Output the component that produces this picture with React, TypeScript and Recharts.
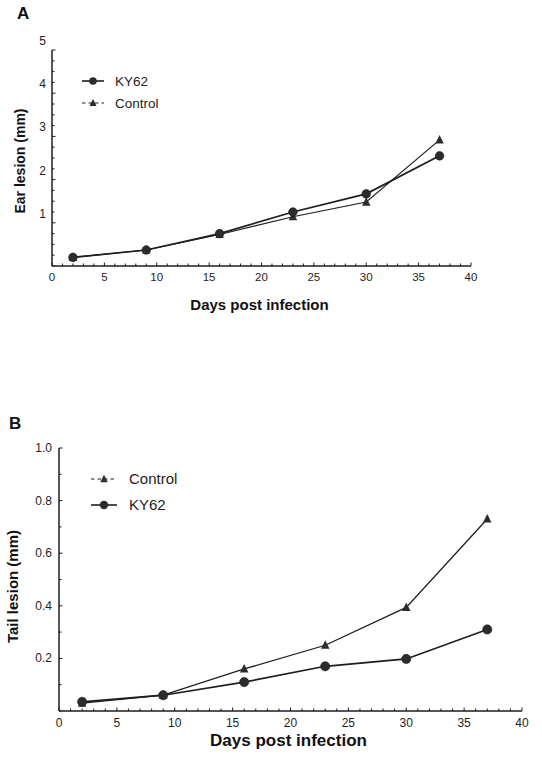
import React from 'react';
import { LineChart, Line, XAxis, YAxis, Legend } from 'recharts';

// ---------- data ----------
const days = [2, 9, 16, 23, 30, 37];
const earKY62 = [0.2, 0.37, 0.75, 1.25, 1.67, 2.55];
const earControl = [0.2, 0.37, 0.73, 1.14, 1.48, 2.92];
const tailControl = [0.03, 0.06, 0.16, 0.25, 0.394, 0.73];
const tailKY62 = [0.035, 0.06, 0.11, 0.17, 0.198, 0.31];

// tick labels (major) and minor tick positions
const dayMajor = [0, 5, 10, 15, 20, 25, 30, 35, 40];
const earMajor = [1, 2, 3, 4, 5];
const tailMajor = [0.2, 0.4, 0.6, 0.8, 1.0];
const dayTicks = Array.from({ length: 41 }, (_, i) => i);
const earTicks = Array.from({ length: 21 }, (_, i) => i / 4);
const tailTicks = Array.from({ length: 11 }, (_, i) => i / 10);

const earData = days.map((d, i) => ({ day: d, ky62: earKY62[i], control: earControl[i] }));
const tailData = days.map((d, i) => ({ day: d, ky62: tailKY62[i], control: tailControl[i] }));

const FONT = '"Liberation Sans", Arial, sans-serif';
const INK = '#1e1e1e';

const isMajor = (v: number, majors: number[]) => majors.some((m) => Math.abs(m - v) < 1e-6);

const makeXTick = (labelDy: number, fs: number) => (props: any) => {
  const { x, y, payload } = props;
  const v = payload.value;
  const major = isMajor(v, dayMajor);
  return (
    <g>
      <line x1={x} x2={x} y1={y} y2={y - (major ? 3.5 : 2.5)} stroke={INK} strokeWidth={1} />
      {major && (
        <text x={x} y={y + labelDy} textAnchor="middle" fontSize={fs} fontFamily={FONT} fill={INK}>
          {String(v)}
        </text>
      )}
    </g>
  );
};

const makeYTick = (majors: number[], fmt: (v: number) => string, dx: number, dy: number, fs: number) => (props: any) => {
  const { x, y, payload } = props;
  const v = payload.value;
  const major = isMajor(v, majors);
  return (
    <g>
      <line x1={x} x2={x + (major ? 3.5 : 2.5)} y1={y} y2={y} stroke={INK} strokeWidth={1} />
      {major && (
        <text x={x - dx} y={y + dy} textAnchor="end" fontSize={fs} fontFamily={FONT} fill={INK}>
          {fmt(v)}
        </text>
      )}
    </g>
  );
};

const circleDot = (r: number) => (props: any) => {
  const { cx, cy, index } = props;
  if (cx == null || cy == null) return <g key={`c${index}`} />;
  return <circle key={`c${index}`} cx={cx} cy={cy} r={r} fill="#2c2c2c" stroke="#1a1a1a" strokeWidth={0.6} />;
};

const triPoints = (cx: number, cy: number, s: number) =>
  `${cx},${cy - s * 0.58} ${cx - s / 2},${cy + s * 0.42} ${cx + s / 2},${cy + s * 0.42}`;

const triangleDot = (s: number) => (props: any) => {
  const { cx, cy, index } = props;
  if (cx == null || cy == null) return <g key={`t${index}`} />;
  return <polygon key={`t${index}`} points={triPoints(cx, cy, s)} fill="#2c2c2c" />;
};

type Entry = { name: string; kind: 'circle' | 'triangle' };

const makeLegend = (entries: Entry[], cfg: { y0: number; dy: number; lx1: number; lx2: number; tx: number; fs: number; r: number; s: number }) => () => (
  <svg width={140} height={cfg.y0 * 2 + cfg.dy} style={{ display: 'block', overflow: 'visible' }}>
    {entries.map((e, i) => {
      const y = cfg.y0 + i * cfg.dy;
      const mx = (cfg.lx1 + cfg.lx2) / 2;
      const dashed = e.kind === 'triangle';
      return (
        <g key={e.name}>
          <line
            x1={cfg.lx1}
            x2={cfg.lx2}
            y1={y}
            y2={y}
            stroke={INK}
            strokeWidth={dashed ? 1.1 : 1.6}
            strokeDasharray={dashed ? '3.5 3' : undefined}
          />
          {e.kind === 'circle' ? (
            <circle cx={mx} cy={y} r={cfg.r} fill="#2c2c2c" />
          ) : (
            <polygon points={triPoints(mx, y, cfg.s)} fill="#2c2c2c" />
          )}
          <text x={cfg.tx} y={y + cfg.fs * 0.36} fontSize={cfg.fs} fontFamily={FONT} fill={INK}>
            {e.name}
          </text>
        </g>
      );
    })}
  </svg>
);

const xTitle = (text: string, fs: number, dxc: number, baseline: number) => (props: any) => {
  const vb = props.viewBox || { x: 0, y: 0, width: 0, height: 0 };
  return (
    <text x={vb.x + vb.width / 2 + dxc} y={vb.y + baseline} textAnchor="middle" fontSize={fs} fontWeight="bold" fontFamily={FONT} fill="#111">
      {text}
    </text>
  );
};

const yTitle = (text: string, fs: number, bx: number, dyc: number) => (props: any) => {
  const vb = props.viewBox || { x: 0, y: 0, width: 0, height: 0 };
  const cy = vb.y + vb.height / 2 + dyc;
  return (
    <text x={bx} y={cy} transform={`rotate(-90, ${bx}, ${cy})`} textAnchor="middle" fontSize={fs} fontWeight="bold" fontFamily={FONT} fill="#111">
      {text}
    </text>
  );
};

const axisLine = { stroke: INK, strokeWidth: 1.5 };

export default function App() {
  return (
    <div style={{ position: 'absolute', left: 0, top: 0, width: 542, height: 764, background: '#fff', fontFamily: FONT }}>
      {/* Panel A */}
      <div style={{ position: 'absolute', left: 17, top: 4, fontSize: 17, fontWeight: 'bold', fontFamily: FONT, color: '#111' }}>A</div>
      <div style={{ position: 'absolute', left: 0, top: 0 }}>
        <LineChart width={542} height={320} data={earData} margin={{ top: 50, right: 71, bottom: 0, left: 0 }}>
          <XAxis
            dataKey="day"
            type="number"
            domain={[0, 40]}
            ticks={dayTicks}
            interval={0}
            height={54}
            tickSize={0}
            tickMargin={0}
            tickLine={false}
            axisLine={axisLine}
            tick={makeXTick(15, 11.5)}
            label={{ content: xTitle('Days post infection', 15, -2, 44) }}
          />
          <YAxis
            type="number"
            domain={[0, 5]}
            ticks={earTicks}
            interval={0}
            width={52}
            tickSize={0}
            tickMargin={0}
            tickLine={false}
            axisLine={axisLine}
            tick={makeYTick(earMajor, (v) => String(v), 6, -5, 12)}
            label={{ content: yTitle('Ear lesion (mm)', 14, 25, 3) }}
          />
          <Legend
            layout="vertical"
            align="center"
            verticalAlign="middle"
            wrapperStyle={{ left: 80, top: 70, width: 140, height: 50 }}
            content={makeLegend(
              [
                { name: 'KY62', kind: 'circle' },
                { name: 'Control', kind: 'triangle' },
              ],
              { y0: 11, dy: 22, lx1: 2, lx2: 24, tx: 35, fs: 13.5, r: 3.8, s: 7 }
            )}
          />
          <Line type="linear" dataKey="control" name="Control" stroke={INK} strokeWidth={1.2} dot={triangleDot(8.5)} activeDot={false} isAnimationActive={false} />
          <Line type="linear" dataKey="ky62" name="KY62" stroke={INK} strokeWidth={1.7} dot={circleDot(4.3)} activeDot={false} isAnimationActive={false} />
        </LineChart>
      </div>

      {/* Panel B */}
      <div style={{ position: 'absolute', left: 9, top: 414, fontSize: 17, fontWeight: 'bold', fontFamily: FONT, color: '#111' }}>B</div>
      <div style={{ position: 'absolute', left: 0, top: 380 }}>
        <LineChart width={542} height={384} data={tailData} margin={{ top: 68, right: 20, bottom: 0, left: 0 }}>
          <XAxis
            dataKey="day"
            type="number"
            domain={[0, 40]}
            ticks={dayTicks}
            interval={0}
            height={53}
            tickSize={0}
            tickMargin={0}
            tickLine={false}
            axisLine={axisLine}
            tick={makeXTick(16, 12)}
            label={{ content: xTitle('Days post infection', 17, -2, 35) }}
          />
          <YAxis
            type="number"
            domain={[0, 1]}
            ticks={tailTicks}
            interval={0}
            width={59}
            tickSize={0}
            tickMargin={0}
            tickLine={false}
            axisLine={axisLine}
            tick={makeYTick(tailMajor, (v) => v.toFixed(1), 7, 4, 12)}
            label={{ content: yTitle('Tail lesion (mm)', 15, 18, 7) }}
          />
          <Legend
            layout="vertical"
            align="center"
            verticalAlign="middle"
            wrapperStyle={{ left: 88, top: 88, width: 140, height: 50 }}
            content={makeLegend(
              [
                { name: 'Control', kind: 'triangle' },
                { name: 'KY62', kind: 'circle' },
              ],
              { y0: 11, dy: 26, lx1: 3, lx2: 29, tx: 41, fs: 15, r: 4.2, s: 7.5 }
            )}
          />
          <Line type="linear" dataKey="control" name="Control" stroke={INK} strokeWidth={1.3} dot={triangleDot(8.5)} activeDot={false} isAnimationActive={false} />
          <Line type="linear" dataKey="ky62" name="KY62" stroke={INK} strokeWidth={1.7} dot={circleDot(4.6)} activeDot={false} isAnimationActive={false} />
        </LineChart>
      </div>
    </div>
  );
}
